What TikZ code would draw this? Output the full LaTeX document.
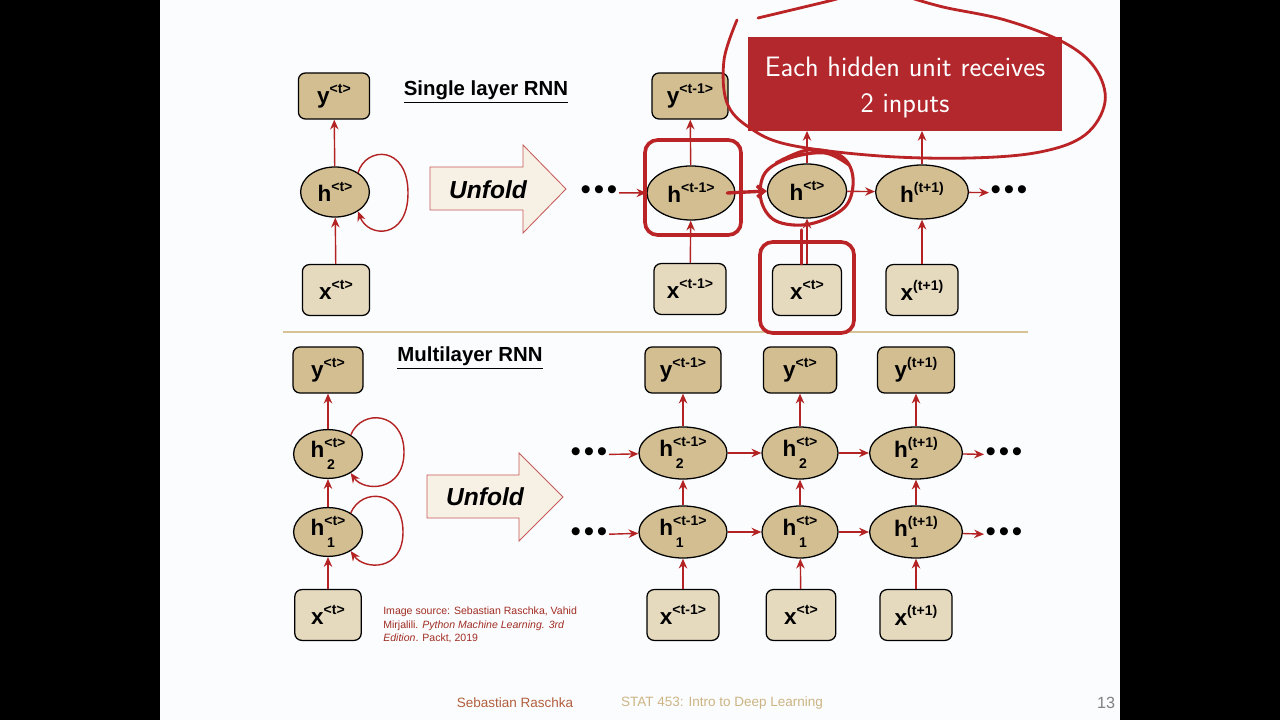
\documentclass[tikz,border=0pt]{standalone}
\usepackage{fontspec}
\newfontfamily\arialfont{Liberation Sans}
\usetikzlibrary{shapes.geometric, arrows.meta, positioning}

\definecolor{tan}{RGB}{211,190,146}
\definecolor{lighttan}{RGB}{229,217,190}
\definecolor{unfoldfill}{RGB}{247,240,229}
\definecolor{arrowred}{RGB}{180,35,35}
\definecolor{notered}{RGB}{178,40,45}
\definecolor{handred}{RGB}{186,36,38}
\definecolor{citered}{RGB}{160,45,35}
\definecolor{slidebg}{RGB}{251,252,253}
\definecolor{sepline}{RGB}{214,194,150}
\definecolor{authorred}{RGB}{178,95,62}
\definecolor{footertan}{RGB}{204,180,132}

\newcommand{\labelfont}{\arialfont\bfseries\fontsize{16}{16}\selectfont}
\newcommand{\supfont}{\fontsize{10}{10}\selectfont}
\newcommand{\seqsup}[2]{#1\raisebox{7pt}{\supfont #2}}
\newcommand{\seqsub}[3]{#1\rlap{\raisebox{7pt}{\supfont #2}}\rlap{\raisebox{-8.5pt}{\hspace{2pt}\supfont #3}}\phantom{\supfont #2}}

\tikzstyle{ybox} = [rectangle, rounded corners=5pt, draw=black, line width=0.9pt, fill=tan, minimum width=1.85cm, minimum height=1.15cm, inner sep=0pt, font=\labelfont]
\tikzstyle{xbox} = [ybox, fill=lighttan, minimum width=1.8cm, minimum height=1.27cm]
\tikzstyle{hstate} = [ellipse, draw=black, line width=0.9pt, fill=tan, minimum width=1.9cm, minimum height=1.3cm, inner sep=0pt, font=\labelfont]
\tikzstyle{flow} = [draw=arrowred, line width=1pt, -{Stealth[length=7pt, width=6pt]}]
\tikzstyle{handmark} = [draw=handred, line width=2pt, line cap=round, line join=round]
\tikzstyle{handbox} = [draw=handred, line width=2.6pt, rounded corners=9pt]
\tikzstyle{unfoldarrow} = [draw=arrowred!75, line width=0.6pt, fill=unfoldfill]
\tikzstyle{unfoldtext} = [font=\arialfont\bfseries\itshape\fontsize{17.5}{17.5}\selectfont]
\tikzstyle{titletext} = [font=\arialfont\bfseries\fontsize{14.5}{14.5}\selectfont]
\tikzstyle{dots} = [font=\arialfont\fontsize{21}{21}\selectfont, inner sep=1pt, yshift=-2pt]
\tikzstyle{notebox} = [rectangle, fill=notered, text=white, minimum width=7.85cm, minimum height=2.33cm, align=center, font=\sffamily\fontsize{20}{25.6}\selectfont]
\tikzstyle{footer} = [font=\arialfont\fontsize{9.6}{9.6}\selectfont, inner sep=0pt]

\begin{document}
\begin{tikzpicture}[x=0.025cm, y=-0.025cm]

    % slide and page border
    \fill [black] (0,0) rectangle (1280,720);
    \fill [slidebg] (160,0) rectangle (1120,720);
    \useasboundingbox (0,0) rectangle (1280,720);

    % single layer, folded
    \node (yTopL) [ybox, minimum width=1.78cm] at (334,96) {\seqsup{y}{<t>}};
    \node (hTopL) [hstate, minimum width=1.72cm, minimum height=1.25cm] at (335,192) {\seqsup{h}{<t>}};
    \node (xTopL) [xbox, minimum width=1.68cm] at (336,290) {\seqsup{x}{<t>}};

    \draw [flow] (xTopL) -- (hTopL);
    \draw [flow] (hTopL) -- (yTopL);
    \draw [flow] (hTopL.40) .. controls (366,146) and (408,145) .. (408,193) .. controls (408,240) and (368,238) .. (hTopL.-40);

    \node (titleTop) [titletext] at (486,92) {\underline{Single layer RNN}};
    \draw [unfoldarrow] (430,167) -- (523,167) -- (523,145) -- (566,189) -- (523,233) -- (523,210) -- (430,210) -- cycle;
    \node (unfoldTop) [unfoldtext] at (488,190) {Unfold};

    % single layer, unfolded
    \node (dotsTopA) [dots] at (599,190) {•\kern2pt•\kern2pt•};
    \node (hTopA) [hstate, minimum width=2.2cm, minimum height=1.35cm] at (691,193) {\seqsup{h}{<t-1>}};
    \node (hTopB) [hstate, minimum width=1.98cm, minimum height=1.35cm] at (807,191) {\seqsup{h}{<t>}};
    \node (hTopC) [hstate, minimum width=2.32cm, minimum height=1.35cm] at (922,192) {\seqsup{h}{(t+1)}};
    \node (dotsTopB) [dots] at (1009,190) {•\kern2pt•\kern2pt•};

    \node (yTopA) [ybox, minimum width=1.9cm] at (690,96) {\seqsup{y}{<t-1>}};
    \node (xTopA) [xbox] at (690,289) {\seqsup{x}{<t-1>}};
    \node (xTopB) [xbox, minimum width=1.72cm] at (807,290) {\seqsup{x}{<t>}};
    \node (xTopC) [xbox] at (922,290) {\seqsup{x}{(t+1)}};

    \node (note) [notebox] at (905,84) {\rule{0pt}{19.5pt}Each hidden unit receives\\2 inputs};

    \draw [flow] (dotsTopA) -- (hTopA);
    \draw [flow] (hTopA) -- (hTopB);
    \draw [flow] (hTopB) -- (hTopC);
    \draw [flow] (hTopC) -- (dotsTopB);
    \draw [flow] (xTopA) -- (hTopA);
    \draw [flow] (xTopB) -- (hTopB);
    \draw [flow] (xTopC) -- (hTopC);
    \draw [flow] (hTopA) -- (yTopA);
    \draw [flow] (hTopB) -- (hTopB |- note.south);
    \draw [flow] (hTopC) -- (hTopC |- note.south);

    \draw [sepline, line width=1pt] (283,332) -- (1028,332);

    % multilayer, folded
    \node (yBotL) [ybox, minimum width=1.75cm] at (328,370) {\seqsup{y}{<t>}};
    \node (hTwoL) [hstate, minimum width=1.72cm, minimum height=1.22cm] at (328,454) {\seqsub{h}{<t>}{2}};
    \node (hOneL) [hstate, minimum width=1.72cm, minimum height=1.22cm] at (328,532) {\seqsub{h}{<t>}{1}};
    \node (xBotL) [xbox, minimum width=1.66cm] at (328,615) {\seqsup{x}{<t>}};

    \draw [flow] (xBotL) -- (hOneL);
    \draw [flow] (hOneL) -- (hTwoL);
    \draw [flow] (hTwoL) -- (yBotL);
    \draw [flow] (hTwoL.40) .. controls (362,408) and (404,412) .. (404,452) .. controls (404,492) and (364,492) .. (hTwoL.-40);
    \draw [flow] (hOneL.40) .. controls (362,487) and (403,490) .. (403,532) .. controls (403,572) and (364,570) .. (hOneL.-40);

    \node (titleBot) [titletext] at (470,358) {\underline{Multilayer RNN}};
    \draw [unfoldarrow] (427,475) -- (519,475) -- (519,453) -- (563,497) -- (519,541) -- (519,518) -- (427,518) -- cycle;
    \node (unfoldBot) [unfoldtext] at (485,497) {Unfold};

    \node (source) [anchor=north west, inner sep=0pt, align=left, text=citered, font=\arialfont\fontsize{7.5}{9.3}\selectfont] at (383,607) {Image source: Sebastian Raschka, Vahid\\Mirjalili. \textit{Python Machine Learning. 3rd}\\\textit{Edition}. Packt, 2019};

    % multilayer, unfolded
    \node (dotsTwoA) [dots] at (589,452) {•\kern2pt•\kern2pt•};
    \node (dotsOneA) [dots] at (589,532) {•\kern2pt•\kern2pt•};
    \node (dotsTwoB) [dots] at (1004,452) {•\kern2pt•\kern2pt•};
    \node (dotsOneB) [dots] at (1004,532) {•\kern2pt•\kern2pt•};

    \node (yBotA) [ybox, minimum width=1.9cm] at (683,370) {\seqsup{y}{<t-1>}};
    \node (yBotB) [ybox, minimum width=1.83cm] at (800,370) {\seqsup{y}{<t>}};
    \node (yBotC) [ybox, minimum width=1.92cm] at (916,370) {\seqsup{y}{(t+1)}};

    \node (hTwoA) [hstate, minimum width=2.2cm] at (683,453) {\seqsub{h}{<t-1>}{2}};
    \node (hTwoB) [hstate] at (800,453) {\seqsub{h}{<t>}{2}};
    \node (hTwoC) [hstate, minimum width=2.32cm] at (916,453) {\seqsub{h}{(t+1)}{2}};

    \node (hOneA) [hstate, minimum width=2.2cm] at (683,532) {\seqsub{h}{<t-1>}{1}};
    \node (hOneB) [hstate] at (800,532) {\seqsub{h}{<t>}{1}};
    \node (hOneC) [hstate, minimum width=2.32cm] at (916,532) {\seqsub{h}{(t+1)}{1}};

    \node (xBotA) [xbox] at (683,615) {\seqsup{x}{<t-1>}};
    \node (xBotB) [xbox, minimum width=1.74cm] at (801,615) {\seqsup{x}{<t>}};
    \node (xBotC) [xbox] at (916,615) {\seqsup{x}{(t+1)}};

    \draw [flow] (dotsTwoA) -- (hTwoA);
    \draw [flow] (hTwoA) -- (hTwoB);
    \draw [flow] (hTwoB) -- (hTwoC);
    \draw [flow] (hTwoC) -- (dotsTwoB);
    \draw [flow] (dotsOneA) -- (hOneA);
    \draw [flow] (hOneA) -- (hOneB);
    \draw [flow] (hOneB) -- (hOneC);
    \draw [flow] (hOneC) -- (dotsOneB);

    \draw [flow] (xBotA) -- (hOneA);
    \draw [flow] (xBotB) -- (hOneB);
    \draw [flow] (xBotC) -- (hOneC);
    \draw [flow] (hOneA) -- (hTwoA);
    \draw [flow] (hOneB) -- (hTwoB);
    \draw [flow] (hOneC) -- (hTwoC);
    \draw [flow] (hTwoA) -- (yBotA);
    \draw [flow] (hTwoB) -- (yBotB);
    \draw [flow] (hTwoC) -- (yBotC);

    % hand drawn marks
    \draw [handbox] (645,140) rectangle (741,235);
    \draw [handbox] (760,242) rectangle (854,333);
    \draw [handmark] plot [smooth, tension=0.6] coordinates {(737,20) (724,60) (727,103) (750,128) (790,145) (880,156) (970,158) (1040,152) (1085,135) (1105,102) (1095,68) (1063,42) (1005,20) (943,7) (905,-4)};
    \draw [handmark] plot [smooth] coordinates {(758,18) (800,8) (833,0) (850,-5)};
    \draw [handmark, line width=2.2pt] plot [smooth, tension=0.6] coordinates {(776,163) (808,150) (841,156) (853,178) (845,207) (810,224) (776,221) (761,200) (765,173) (790,158) (825,153) (849,165)};
    \draw [handmark, line width=2.4pt, -{Straight Barb[length=5pt, width=8pt]}] ([xshift=-6pt]hTopA.east) -- (hTopB.west);
    \draw [handmark] ([xshift=-4pt]xTopB.north) -- ([xshift=-4pt, yshift=-8pt]hTopB.south);

    % footer
    \node (author) [footer, text=authorred] at (515,703) {Sebastian Raschka};
    \node (course) [footer, text=footertan] at (722,703) {STAT 453: Intro to Deep Learning};
    \node (page) [footer, text=gray, font=\arialfont\fontsize{11.5}{11.5}\selectfont] at (1106,703) {13};

\end{tikzpicture}
\end{document}
